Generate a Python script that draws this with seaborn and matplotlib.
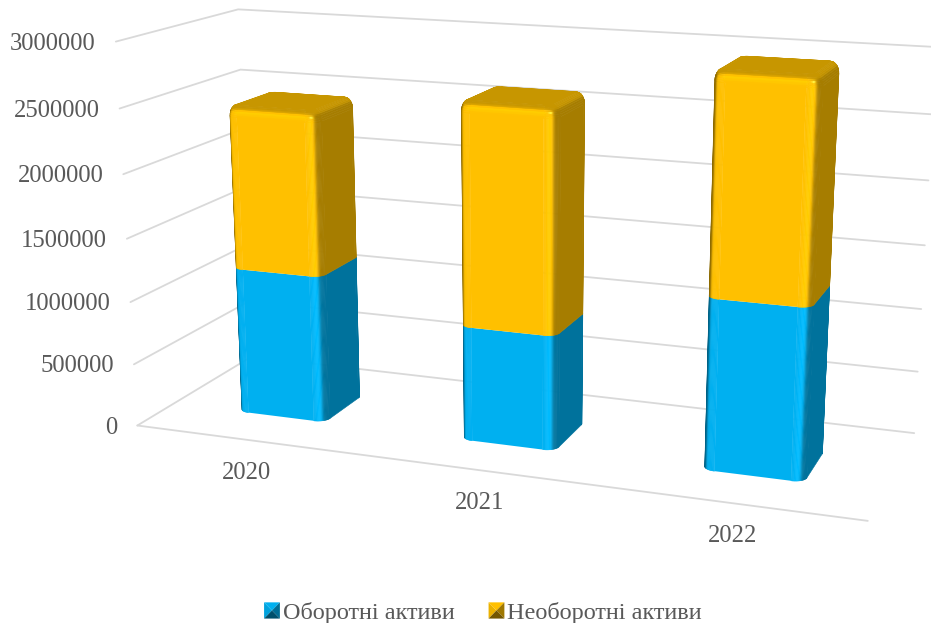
import numpy as np
import matplotlib
matplotlib.use("Agg")
import matplotlib.pyplot as plt
import pandas as pd
import seaborn as sns
from matplotlib.collections import PolyCollection
from matplotlib.legend_handler import HandlerBase
from matplotlib.patches import Patch, Polygon
from matplotlib.transforms import Transform

# Chart data
years = ["2020", "2021", "2022"]
current_assets = [1175000, 900000, 1310000]
noncurrent_assets = [1285000, 1720000, 1650000]
value_ticks = [0, 500000, 1000000, 1500000, 2000000, 2500000, 3000000]
series_names = ["Оборотні активи", "Необоротні активи"]

# Colours
BLUE = "#00B0F0"
GOLD = "#FFC000"
GRID = "#D9D9D9"
TEXT = "#595959"

# Box proportions in category / depth / value units
BAR_WIDTH = 0.40
DEPTH_FRONT, DEPTH_BACK = 0.30, 0.68
ROUND_X, ROUND_Y, ROUND_Z = 0.05, 0.05, 85000
TOP_INSET = 0.6  # share of the plan radius the top fillet eats into

# Camera calibration: frame corners (category, depth, millions) and canvas pixels
FRAME_WORLD = [(0, 0, 0), (3, 0, 0), (0, 1, 0), (3, 1, 0), (0, 1, 3), (3, 1, 3), (0, 0, 3)]
FRAME_CANVAS = [(137, 425), (868, 521), (252, 357), (914, 433), (238, 9), (936, 47), (116, 42)]


def fit_camera(world, canvas):
    rows = []
    for (x, y, z), (u, v) in zip(world, canvas):
        rows.append([x, y, z, 1, 0, 0, 0, 0, -u * x, -u * y, -u * z, -u])
        rows.append([0, 0, 0, 0, x, y, z, 1, -v * x, -v * y, -v * z, -v])
    return np.linalg.svd(np.array(rows, float))[2][-1].reshape(3, 4)


CAMERA = fit_camera(FRAME_WORLD, FRAME_CANVAS)


def project(points):
    """Map (category, depth, value) points to canvas pixels."""
    pts = np.atleast_2d(np.asarray(points, float))
    hom = np.column_stack([pts[:, 0], pts[:, 1], pts[:, 2] / 1e6, np.ones(len(pts))])
    out = hom @ CAMERA.T
    return out[:, :2] / out[:, 2:]


class FrontPlane(Transform):
    """Data transform placing (bar index, value) on the bars' front plane."""
    input_dims = output_dims = 2

    def transform_non_affine(self, values):
        values = np.asarray(values, float)
        return project(np.column_stack([values[:, 0] + 0.5,
                                        np.full(len(values), DEPTH_FRONT),
                                        values[:, 1]]))


def outline(cx):
    """Rounded plan of one column, counter-clockwise, with outward normals."""
    x0, x1 = cx - BAR_WIDTH / 2 + ROUND_X, cx + BAR_WIDTH / 2 - ROUND_X
    y0, y1 = DEPTH_FRONT + ROUND_Y, DEPTH_BACK - ROUND_Y
    pts, nrm = [], []
    for (px, py, start) in [(x1, y0, -90), (x1, y1, 0), (x0, y1, 90), (x0, y0, 180)]:
        for deg in np.linspace(start, start + 90, 17):
            a = np.radians(deg)
            pts.append((px + ROUND_X * np.cos(a), py + ROUND_Y * np.sin(a)))
            nrm.append((np.cos(a), np.sin(a)))
    return np.array(pts), np.array(nrm)


def shade(color, normal):
    """Lit colour for a surface normal (x right, y back, z up)."""
    c = np.array(matplotlib.colors.to_rgb(color))
    n = np.asarray(normal, float)
    n = n / np.linalg.norm(n)
    front, right = max(-n[1], 0), max(n[0], 0)
    left, up = max(-n[0], 0), max(n[2], 0)
    # Steep weights keep each face's tone across most of its fillet
    w = np.array([front, right, left, up]) ** 7
    b = np.dot(w, [1.0, 0.65, 0.55, 0.78]) / w.sum()
    band = max(max(np.dot(n, [0.5, -0.866, 0.0]), np.dot(n, [0.0, -0.866, 0.5])), 0) ** 24
    hot = max(np.dot(n, [0.47, -0.75, 0.47]), 0) ** 120
    rgb = c * (b + 0.07 * band)
    rgb = rgb + hot * (np.array([1.0, 0.95, 0.25]) - rgb) * (0.8 if color == GOLD else 0.3)
    return np.clip(rgb, 0, 1)


def column_mesh(cx, z0, z1, color, rounded_top):
    """Visible facets of one stacked segment, excluding its flat front."""
    pts, nrm = outline(cx)
    rows = [(z0, 0.0, 0.0), (z1 - (ROUND_Z if rounded_top else 0), 0.0, 0.0)]
    if rounded_top:
        for t in np.linspace(0, np.pi / 2, 9)[1:]:
            rows.append((z1 - ROUND_Z + ROUND_Z * np.sin(t), (1 - np.cos(t)) * TOP_INSET, t))
    quads, faces = [], []
    count = len(pts)
    for (za, ia, ta), (zb, ib, tb) in zip(rows[:-1], rows[1:]):
        for i in range(count):
            j = (i + 1) % count
            flat_front = np.allclose(nrm[i], [0, -1]) and np.allclose(nrm[j], [0, -1])
            if flat_front and ta == 0 and tb == 0:
                continue
            ring = []
            for k, inset, z in [(i, ia, za), (j, ia, za), (j, ib, zb), (i, ib, zb)]:
                ring.append((pts[k][0] - nrm[k][0] * inset * ROUND_X,
                             pts[k][1] - nrm[k][1] * inset * ROUND_Y, z))
            quad = project(ring)
            x, y = quad[:, 0], quad[:, 1]
            if np.sum(x * np.roll(y, -1) - np.roll(x, -1) * y) >= 0:
                continue
            tm = 0.5 * (ta + tb)
            nm = 0.5 * (nrm[i] + nrm[j])
            quads.append(quad)
            faces.append(shade(color, (nm[0] * np.cos(tm), nm[1] * np.cos(tm), np.sin(tm))))
    if rounded_top:
        inner = pts - nrm * [ROUND_X * TOP_INSET, ROUND_Y * TOP_INSET]
        quads.append(project(np.column_stack([inner, np.full(count, z1)])))
        faces.append(shade(color, (0, 0, 1)))
    return quads, faces


class BevelSwatch(HandlerBase):
    """Legend key shaped like a small bevelled square."""

    def create_artists(self, legend, orig, xd, yd, width, height, fontsize, trans):
        c = np.array(matplotlib.colors.to_rgb(orig.get_facecolor()))
        x0, y0, x1, y1 = -xd, -yd, -xd + width, -yd + height
        mx, my = (x0 + x1) / 2, (y0 + y1) / 2
        tris = [([(x0, y0), (x0, y1), (mx, my)], 0.92),
                ([(x0, y1), (x1, y1), (mx, my)], 1.0),
                ([(x1, y1), (x1, y0), (mx, my)], 0.62),
                ([(x1, y0), (x0, y0), (mx, my)], 0.45)]
        return [Polygon(p, closed=True, facecolor=c * s, edgecolor="none", transform=trans)
                for p, s in tris]


sns.set_theme(style="white")
plt.rcParams["font.family"] = ["Liberation Serif", "DejaVu Sans"]

fig = plt.figure(figsize=(9.31, 6.23), dpi=100)
ax = fig.add_axes([0, 0, 1, 1])

table = pd.DataFrame({"year": years, "current": current_assets, "noncurrent": noncurrent_assets})
front = FrontPlane() + ax.transData
flat_width = BAR_WIDTH - 2 * ROUND_X

# Flat front faces of the stacked columns
sns.barplot(data=table, x="year", y="current", color=BLUE, saturation=1, width=flat_width,
            errorbar=None, transform=front, linewidth=0, zorder=3, ax=ax)
sns.barplot(data=table, x="year", y="noncurrent", bottom=table["current"], color=GOLD, saturation=1,
            width=flat_width, errorbar=None, transform=front, linewidth=0, zorder=3, ax=ax)

ax.set_xlim(0, 931)
ax.set_ylim(623, 0)
ax.axis("off")

# Walls and floor
for v in value_ticks:
    a, b, c = project([(0, 0, v), (0, 1, v), (3, 1, v)])
    ax.plot([a[0], b[0], c[0]], [a[1], b[1], c[1]], color=GRID, lw=1.3, zorder=1,
            solid_joinstyle="miter")
    ax.text(a[0] - 20, a[1] + 2, str(v), ha="right", va="center", fontsize=17.7, color=TEXT)
f0, f1 = project([(0, 0, 0), (3, 0, 0)])
ax.plot([f0[0], f1[0]], [f0[1], f1[1]], color=GRID, lw=1.3, zorder=1)

# Column sides, rounded edges and top caps
for i, year in enumerate(years):
    cx = i + 0.5
    for z0, z1, color, top in [(0, current_assets[i], BLUE, False),
                               (current_assets[i], current_assets[i] + noncurrent_assets[i], GOLD, True)]:
        quads, faces = column_mesh(cx, z0, z1, color, top)
        ax.add_collection(PolyCollection(quads, facecolors=faces, edgecolors=faces,
                                         linewidths=0.4, zorder=4))
    label = project([(cx, 0, 0)])[0]
    ax.text(label[0], label[1] + 33, year, ha="center", va="center", fontsize=17.7, color=TEXT)

handles = [Patch(facecolor=BLUE, label=series_names[0]), Patch(facecolor=GOLD, label=series_names[1])]
ax.legend(handles=handles, handler_map={Patch: BevelSwatch()}, loc="center", frameon=False,
          bbox_to_anchor=(483 / 931, 1 - 613 / 623), ncol=2, fontsize=17.5, labelcolor=TEXT,
          handlelength=0.65, handleheight=0.65, handletextpad=0.12, columnspacing=1.4,
          borderpad=0, borderaxespad=0)

fig.savefig("out.png", dpi=100)
